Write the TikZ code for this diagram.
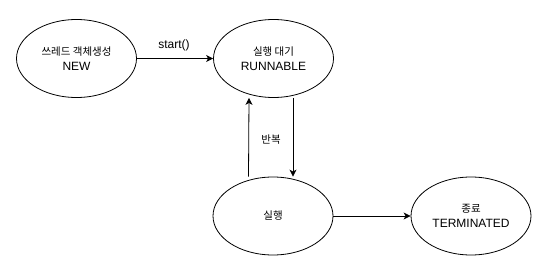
\documentclass[tikz,border=0pt]{standalone}
\usepackage{fontspec}
\setmainfont{Liberation Sans}
\newfontfamily\kr{Noto Sans CJK KR}
\usetikzlibrary{arrows.meta,shapes.geometric}
\begin{document}
\begin{tikzpicture}[x=1pt,y=-1pt,
  state/.style={ellipse,draw,line width=0.8pt,minimum width=120pt,minimum height=78pt,inner sep=0pt,align=center,font=\fontsize{12}{15}\selectfont},
  arr/.style={line width=0.8pt,-{Stealth[length=7pt,width=7pt,inset=2pt]}},
  lbl/.style={font=\fontsize{12}{15}\selectfont,inner sep=0pt}]
\useasboundingbox (0,0) rectangle (546,264);
\node[state] (new) at (76.5,58.5) {{\kr\fontsize{10.5}{15}\selectfont 쓰레드 객체생성}\\NEW};
\node[state] (run) at (273.5,58.5) {{\kr\fontsize{10.5}{15}\selectfont 실행 대기}\\RUNNABLE};
\node[state] (exec) at (273,216) {{\kr\fontsize{10.5}{15}\selectfont 실행}};
\node[state] (term) at (471,216) {{\kr\fontsize{10.5}{15}\selectfont 종료}\\TERMINATED};
\draw[arr] (new.east) -- (run.west);
\node[lbl] (lstart) at (174,45) {start()};
\coordinate (upA) at ([xshift=-24.5pt]exec.north);
\coordinate (upB) at ([xshift=-24.5pt]run.south);
\coordinate (dnA) at ([xshift=19.5pt]run.south);
\coordinate (dnB) at ([xshift=20pt]exec.north);
\draw[arr] (upA) -- (upB);
\draw[arr] (dnA) -- (dnB);
\node[lbl] (lrep) at (271,140) {{\kr\fontsize{10.5}{15}\selectfont 반복}};
\draw[arr] (exec.east) -- (term.west);
\end{tikzpicture}
\end{document}
